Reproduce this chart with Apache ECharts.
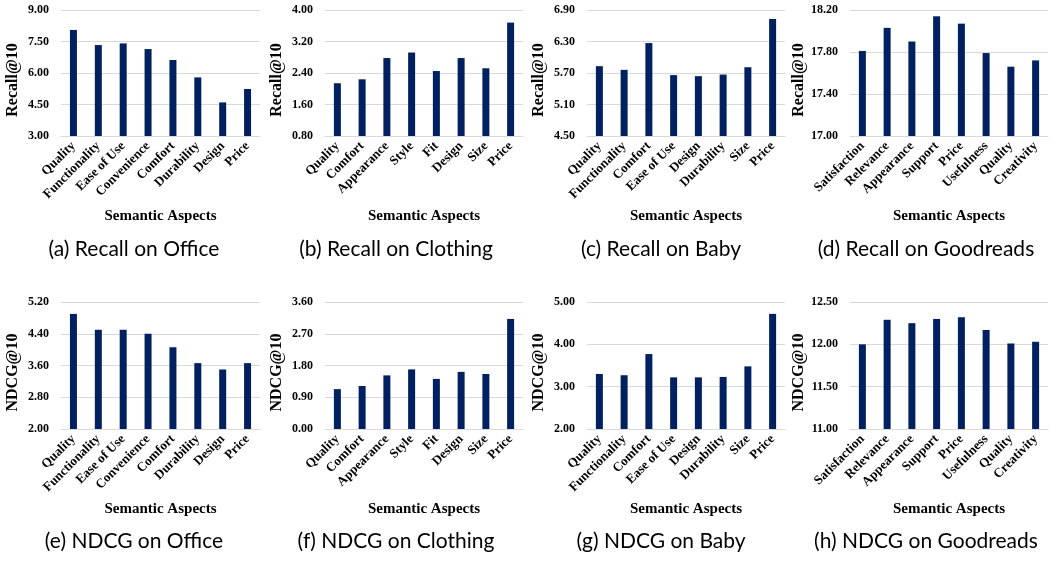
<!DOCTYPE html>
<html>
<head>
<meta charset="utf-8">
<script src="https://cdn.jsdelivr.net/npm/echarts@6/dist/echarts.min.js"></script>
<style>
  body { margin: 0; background: #fff; }
  #chart { width: 1053px; height: 561px; }
</style>
</head>
<body>
<div id="chart"></div>
<script>
// aspect names per dataset
const officeAspects = ['Quality', 'Functionality', 'Ease of Use', 'Convenience', 'Comfort', 'Durability', 'Design', 'Price'];
const clothingAspects = ['Quality', 'Comfort', 'Appearance', 'Style', 'Fit', 'Design', 'Size', 'Price'];
const babyAspects = ['Quality', 'Functionality', 'Comfort', 'Ease of Use', 'Design', 'Durability', 'Size', 'Price'];
const goodreadsAspects = ['Satisfaction', 'Relevance', 'Appearance', 'Support', 'Price', 'Usefulness', 'Quality', 'Creativity'];

// Recall@10 values
const recallOffice = [8.05, 7.33, 7.41, 7.14, 6.62, 5.79, 4.60, 5.24];
const recallClothing = [2.14, 2.24, 2.78, 2.92, 2.45, 2.78, 2.52, 3.68];
const recallBaby = [5.83, 5.76, 6.27, 5.66, 5.64, 5.67, 5.81, 6.73];
const recallGoodreads = [17.81, 18.03, 17.90, 18.14, 18.07, 17.79, 17.66, 17.72];

// NDCG@10 values
const ndcgOffice = [4.90, 4.50, 4.50, 4.40, 4.06, 3.66, 3.50, 3.66];
const ndcgClothing = [1.13, 1.22, 1.52, 1.69, 1.42, 1.62, 1.56, 3.12];
const ndcgBaby = [3.30, 3.27, 3.77, 3.22, 3.22, 3.23, 3.48, 4.72];
const ndcgGoodreads = [12.00, 12.29, 12.25, 12.30, 12.32, 12.17, 12.01, 12.03];

// y axis ticks: min, max, step (a..h)
const yMins = [3.00, 0.80, 4.50, 17.00, 2.00, 0.00, 2.00, 11.00];
const yMaxs = [9.00, 4.00, 6.90, 18.20, 5.20, 3.60, 5.00, 12.50];
const ySteps = [1.50, 0.80, 0.60, 0.40, 0.80, 0.90, 1.00, 0.50];

const captions = ['(a) Recall on Office', '(b) Recall on Clothing', '(c) Recall on Baby', '(d) Recall on Goodreads',
                  '(e) NDCG on Office', '(f) NDCG on Clothing', '(g) NDCG on Baby', '(h) NDCG on Goodreads'];

const panels = [
  { cats: officeAspects, vals: recallOffice, name: 'Recall@10' },
  { cats: clothingAspects, vals: recallClothing, name: 'Recall@10' },
  { cats: babyAspects, vals: recallBaby, name: 'Recall@10' },
  { cats: goodreadsAspects, vals: recallGoodreads, name: 'Recall@10' },
  { cats: officeAspects, vals: ndcgOffice, name: 'NDCG@10' },
  { cats: clothingAspects, vals: ndcgClothing, name: 'NDCG@10' },
  { cats: babyAspects, vals: ndcgBaby, name: 'NDCG@10' },
  { cats: goodreadsAspects, vals: ndcgGoodreads, name: 'NDCG@10' }
];

const gridLefts = [61, 325, 587, 850];
const gridWidths = [199, 198, 198, 198];
const captionX = [134, 396, 661, 926];
const serif = '"Liberation Serif", "Times New Roman", serif';
const barColor = '#002060';
const lineColor = '#d9d9d9';

const grids = [], xAxes = [], yAxes = [], series = [], texts = [];

panels.forEach((p, i) => {
  const col = i % 4;
  const row = Math.floor(i / 4);
  grids.push({
    left: gridLefts[col],
    top: row === 0 ? 10 : 302,
    width: gridWidths[col],
    height: row === 0 ? 126 : 127
  });
  xAxes.push({
    type: 'category',
    gridIndex: i,
    data: p.cats,
    name: 'Semantic Aspects',
    nameLocation: 'middle',
    nameGap: 73,
    nameTextStyle: { fontFamily: serif, fontWeight: 'bold', fontSize: 15, color: '#000', verticalAlign: 'top' },
    axisLine: { lineStyle: { color: lineColor } },
    axisTick: { show: false },
    axisLabel: {
      rotate: 45,
      interval: 0,
      margin: 8,
      fontFamily: serif,
      fontWeight: 'bold',
      fontSize: 13,
      color: '#000'
    }
  });
  yAxes.push({
    type: 'value',
    gridIndex: i,
    min: yMins[i],
    max: yMaxs[i],
    interval: ySteps[i],
    name: p.name,
    nameLocation: 'middle',
    nameGap: 40,
    nameTextStyle: {
      fontFamily: serif, fontWeight: 'bold', fontSize: 16, color: '#000',
      padding: [0, 14, 0, 0]
    },
    axisLine: { show: false },
    axisTick: { show: false },
    splitLine: { lineStyle: { color: lineColor, width: 1 } },
    axisLabel: {
      margin: 12,
      fontFamily: serif,
      fontWeight: 'bold',
      fontSize: 12,
      color: '#000',
      formatter: v => v.toFixed(2)
    }
  });
  series.push({
    type: 'bar',
    xAxisIndex: i,
    yAxisIndex: i,
    data: p.vals,
    barWidth: 7,
    itemStyle: { color: barColor },
    silent: true
  });
  texts.push({
    type: 'text',
    x: captionX[col],
    y: row === 0 ? 249 : 541,
    style: {
      text: captions[i],
      align: 'center',
      verticalAlign: 'middle',
      font: '21px Lato, "Open Sans", sans-serif',
      fill: '#000'
    }
  });
});

const chart = echarts.init(document.getElementById('chart'));
chart.setOption({
  animation: false,
  backgroundColor: '#fff',
  grid: grids,
  xAxis: xAxes,
  yAxis: yAxes,
  series: series,
  graphic: texts
});
</script>
</body>
</html>
